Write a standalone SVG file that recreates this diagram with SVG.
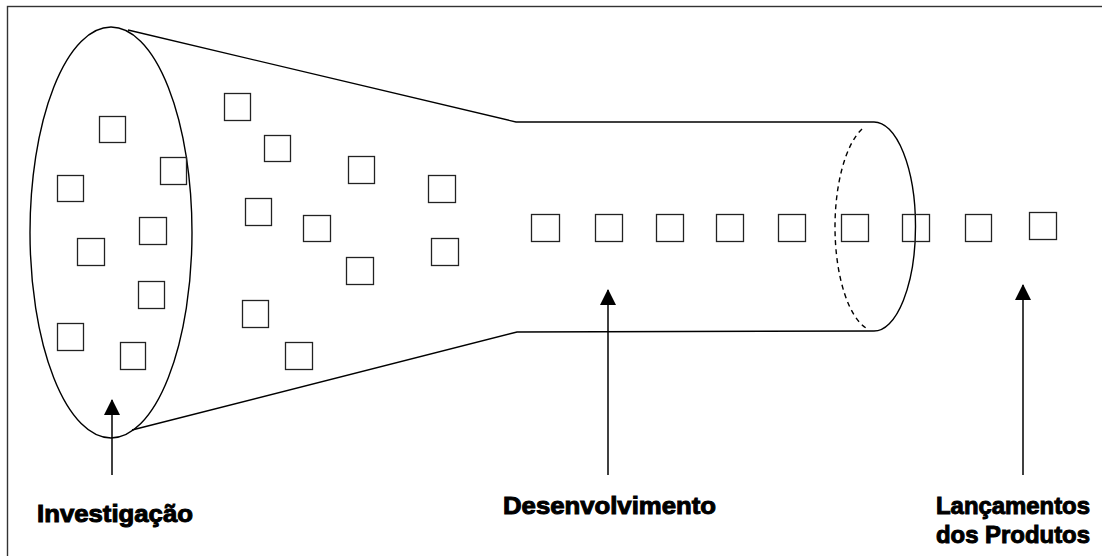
<svg xmlns="http://www.w3.org/2000/svg" width="1102" height="556" viewBox="0 0 1102 556">
<style>
  .frame { fill: none; stroke: #333; stroke-width: 1.4; }
  .ln { fill: none; stroke: #000; stroke-width: 1.4; }
  .dash { fill: none; stroke: #000; stroke-width: 1.4; stroke-dasharray: 5 4; }
  .sq { fill: none; stroke: #222; stroke-width: 1.3; }
  .arr { fill: none; stroke: #000; stroke-width: 1.5; }
  .lbl { font-family: "Liberation Sans", Arial, sans-serif; font-weight: bold; font-size: 24px; fill: #000; stroke: #000; stroke-width: 1; }
</style>
<defs>
  <marker id="ah" markerUnits="userSpaceOnUse" markerWidth="16" markerHeight="18" refX="15" refY="8" orient="auto">
    <path d="M0,0 L16,8 L0,16 Z" fill="#000"/>
  </marker>
</defs>
<rect width="1102" height="556" fill="#fff"/>
<rect class="frame" x="7.5" y="6.5" width="1110" height="570"/>

<g id="funnel">
  <ellipse class="ln" cx="111" cy="232.5" rx="81" ry="205.5"/>
  <path class="ln" d="M128,30 L516,122 L874,122"/>
  <path class="ln" d="M132,430 L517,332 L874,331"/>
  <path class="ln" d="M874,122 A41.5,104.5 0 0 1 874,331"/>
  <path class="dash" d="M862,129 A41.5,104.5 0 0 0 866,328"/>
</g>

<g id="squares">
  <rect class="sq" x="99.5" y="116.5" width="26" height="26"/>
  <rect class="sq" x="160.5" y="157.5" width="26" height="27"/>
  <rect class="sq" x="57.5" y="175.5" width="26" height="26"/>
  <rect class="sq" x="139.5" y="217.5" width="27" height="27"/>
  <rect class="sq" x="77.5" y="238.5" width="27" height="27"/>
  <rect class="sq" x="224.5" y="93.5" width="26" height="27"/>
  <rect class="sq" x="264.5" y="135.5" width="26" height="26"/>
  <rect class="sq" x="348.5" y="156.5" width="26" height="27"/>
  <rect class="sq" x="428.5" y="175.5" width="27" height="27"/>
  <rect class="sq" x="245.5" y="198.5" width="26" height="27"/>
  <rect class="sq" x="303.5" y="215.5" width="27" height="26"/>
  <rect class="sq" x="431.5" y="238.5" width="27" height="27"/>
  <rect class="sq" x="346.5" y="257.5" width="27" height="27"/>
  <rect class="sq" x="138.5" y="281.5" width="26" height="27"/>
  <rect class="sq" x="57.5" y="323.5" width="26" height="27"/>
  <rect class="sq" x="120.5" y="342.5" width="25" height="27"/>
  <rect class="sq" x="242.5" y="300.5" width="26" height="27"/>
  <rect class="sq" x="285.5" y="342.5" width="27" height="27"/>
  <rect class="sq" x="531.5" y="214.5" width="28" height="27"/>
  <rect class="sq" x="595.5" y="214.5" width="27" height="27"/>
  <rect class="sq" x="656.5" y="214.5" width="27" height="27"/>
  <rect class="sq" x="716.5" y="214.5" width="27" height="27"/>
  <rect class="sq" x="778.5" y="214.5" width="27" height="27"/>
  <rect class="sq" x="841.5" y="214.5" width="27" height="27"/>
  <rect class="sq" x="902.5" y="214.5" width="27" height="27"/>
  <rect class="sq" x="965.5" y="214.5" width="26" height="27"/>
  <rect class="sq" x="1029.5" y="212.5" width="27" height="27"/>
</g>

<g id="connectors">
  <line class="arr" x1="112" y1="475" x2="112" y2="400" marker-end="url(#ah)"/>
  <line class="arr" x1="608" y1="475" x2="608" y2="290" marker-end="url(#ah)"/>
  <line class="arr" x1="1023" y1="475" x2="1023" y2="285" marker-end="url(#ah)"/>
</g>

<g id="label-investigacao">
  <text class="lbl" x="37" y="522" textLength="156" lengthAdjust="spacingAndGlyphs">Investigação</text>
</g>
<g id="label-desenvolvimento">
  <text class="lbl" x="503" y="514" textLength="213" lengthAdjust="spacingAndGlyphs">Desenvolvimento</text>
</g>
<g id="label-lancamentos">
  <text class="lbl" x="936" y="514" textLength="154" lengthAdjust="spacingAndGlyphs">Lançamentos</text>
  <text class="lbl" x="936" y="543" textLength="154" lengthAdjust="spacingAndGlyphs">dos Produtos</text>
</g>
</svg>
